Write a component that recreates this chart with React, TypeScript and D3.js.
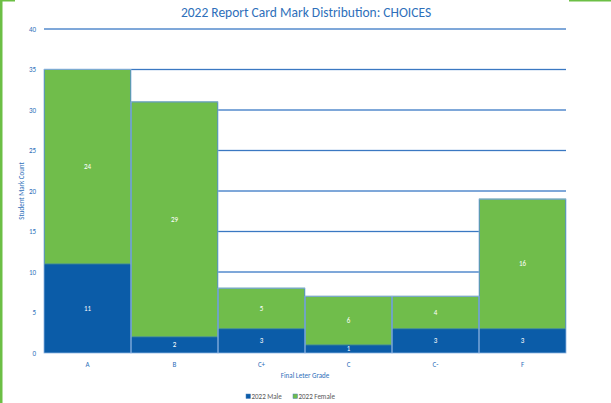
import React, { useEffect, useRef } from 'react';
import * as d3 from 'd3';

const grades = ['A', 'B', 'C+', 'C', 'C-', 'F'];
const maleCounts = [11, 2, 3, 1, 3, 3];
const femaleCounts = [24, 29, 5, 6, 4, 16];
const yTicks = [0, 5, 10, 15, 20, 25, 30, 35, 40];

const BLUE = '#0b5ca8';
const GREEN = '#70bd4b';
const TEXT_BLUE = '#2e6fba';
const FONT = 'Carlito, Calibri, "Open Sans", "Liberation Sans", sans-serif';

const App: React.FC = () => {
  const svgRef = useRef<SVGSVGElement>(null);
  const width = 611;
  const height = 403;

  useEffect(() => {
    if (!svgRef.current) return;
    d3.select(svgRef.current).selectAll('*').remove();

    const svg = d3.select(svgRef.current)
      .attr('width', width)
      .attr('height', height)
      .style('font-family', FONT);

    svg.append('rect').attr('width', width).attr('height', height).attr('fill', '#fff');

    // green frame fragments
    svg.append('rect').attr('x', 0).attr('y', 0).attr('width', 2.5).attr('height', height).attr('fill', '#6cbf45');
    svg.append('rect').attr('x', 0).attr('y', 0).attr('width', 15).attr('height', 1.5).attr('fill', '#6cbf45');
    svg.append('rect').attr('x', 569).attr('y', 0).attr('width', 42).attr('height', 1.5).attr('fill', '#6cbf45');

    const margin = { top: 29, right: 45, bottom: 50, left: 44 };
    const x = d3.scaleBand<string>()
      .domain(grades)
      .range([margin.left, width - margin.right])
      .padding(0);
    const y = d3.scaleLinear()
      .domain([0, 40])
      .range([height - margin.bottom, margin.top]);

    // gridlines (light halo + thin blue core)
    const grid = svg.append('g');
    grid.selectAll('line.halo')
      .data(yTicks.filter(t => t > 0))
      .enter()
      .append('line')
      .attr('class', 'halo')
      .attr('x1', margin.left)
      .attr('x2', width - margin.right)
      .attr('y1', d => y(d))
      .attr('y2', d => y(d))
      .style('stroke', '#c3d7f0')
      .style('stroke-width', 2);
    grid.selectAll('line.inner')
      .data(yTicks.filter(t => t > 0))
      .enter()
      .append('line')
      .attr('class', 'inner')
      .attr('x1', margin.left)
      .attr('x2', width - margin.right)
      .attr('y1', d => y(d))
      .attr('y2', d => y(d))
      .style('stroke', '#3a78c2')
      .style('stroke-width', 1);

    const rows = grades.map((g, i) => ({ grade: g, male: maleCounts[i], female: femaleCounts[i] }));

    // male (bottom)
    svg.append('g').selectAll('rect')
      .data(rows)
      .enter()
      .append('rect')
      .attr('x', d => x(d.grade)!)
      .attr('width', x.bandwidth())
      .attr('y', d => y(d.male))
      .attr('height', d => y(0) - y(d.male))
      .style('fill', BLUE);

    // female (stacked)
    svg.append('g').selectAll('rect')
      .data(rows)
      .enter()
      .append('rect')
      .attr('x', d => x(d.grade)! + 0.5)
      .attr('width', x.bandwidth() - 1)
      .attr('y', d => y(d.male + d.female))
      .attr('height', d => y(d.male) - y(d.male + d.female))
      .style('fill', GREEN)
      .style('stroke', '#3f8a8c')
      .style('stroke-width', 1);

    // outline of full stacks
    svg.append('g').selectAll('rect')
      .data(rows)
      .enter()
      .append('rect')
      .attr('x', d => x(d.grade)!)
      .attr('width', x.bandwidth())
      .attr('y', d => y(d.male + d.female))
      .attr('height', d => y(0) - y(d.male + d.female))
      .style('fill', 'none')
      .style('stroke', '#8db3e2')
      .style('stroke-width', 0.8);

    // value labels
    const labels = svg.append('g')
      .style('font-size', '7px')
      .style('fill', '#fff')
      .attr('text-anchor', 'middle');
    labels.selectAll('text.m')
      .data(rows)
      .enter()
      .append('text')
      .attr('x', d => x(d.grade)! + x.bandwidth() / 2)
      .attr('y', d => (y(0) + y(d.male)) / 2 + 2.5)
      .text(d => d.male);
    labels.selectAll('text.f')
      .data(rows)
      .enter()
      .append('text')
      .attr('x', d => x(d.grade)! + x.bandwidth() / 2)
      .attr('y', d => (y(d.male) + y(d.male + d.female)) / 2 + 2.5)
      .text(d => d.female);

    // y tick labels
    svg.append('g').selectAll('text')
      .data(yTicks)
      .enter()
      .append('text')
      .attr('x', 36)
      .attr('y', d => y(d) + 2.5)
      .attr('text-anchor', 'end')
      .style('font-size', '7px')
      .style('fill', TEXT_BLUE)
      .text(d => d);

    // x tick labels
    svg.append('g').selectAll('text')
      .data(grades)
      .enter()
      .append('text')
      .attr('x', d => x(d)! + x.bandwidth() / 2)
      .attr('y', height - margin.bottom + 14)
      .attr('text-anchor', 'middle')
      .style('font-size', '7px')
      .style('fill', TEXT_BLUE)
      .text(d => d);

    // titles
    svg.append('text')
      .attr('x', 306)
      .attr('y', 17)
      .attr('text-anchor', 'middle')
      .style('font-size', '13.5px')
      .style('fill', TEXT_BLUE)
      .text('2022 Report Card Mark Distribution: CHOICES');

    svg.append('text')
      .attr('x', 305)
      .attr('y', 378)
      .attr('text-anchor', 'middle')
      .style('font-size', '7px')
      .style('fill', TEXT_BLUE)
      .text('Final Leter Grade');

    svg.append('text')
      .attr('transform', `translate(24,${(y(0) + y(40)) / 2}) rotate(-90)`)
      .attr('text-anchor', 'middle')
      .style('font-size', '7px')
      .style('fill', TEXT_BLUE)
      .text('Student Mark Count');

    // legend
    const legend = [
      { label: '2022 Male', color: BLUE, x: 246 },
      { label: '2022 Female', color: GREEN, x: 293 },
    ];
    const lg = svg.append('g');
    legend.forEach(l => {
      lg.append('rect')
        .attr('x', l.x)
        .attr('y', 394)
        .attr('width', 4.5)
        .attr('height', 4.5)
        .style('fill', l.color)
        .style('stroke', '#4a7fc0')
        .style('stroke-width', 0.5);
      lg.append('text')
        .attr('x', l.x + 5.5)
        .attr('y', 399)
        .style('font-size', '7px')
        .style('fill', '#595959')
        .text(l.label);
    });
  }, []);

  return (
    <div style={{ position: 'absolute', left: 0, top: 0 }}>
      <svg ref={svgRef}></svg>
    </div>
  );
};

export default App;
